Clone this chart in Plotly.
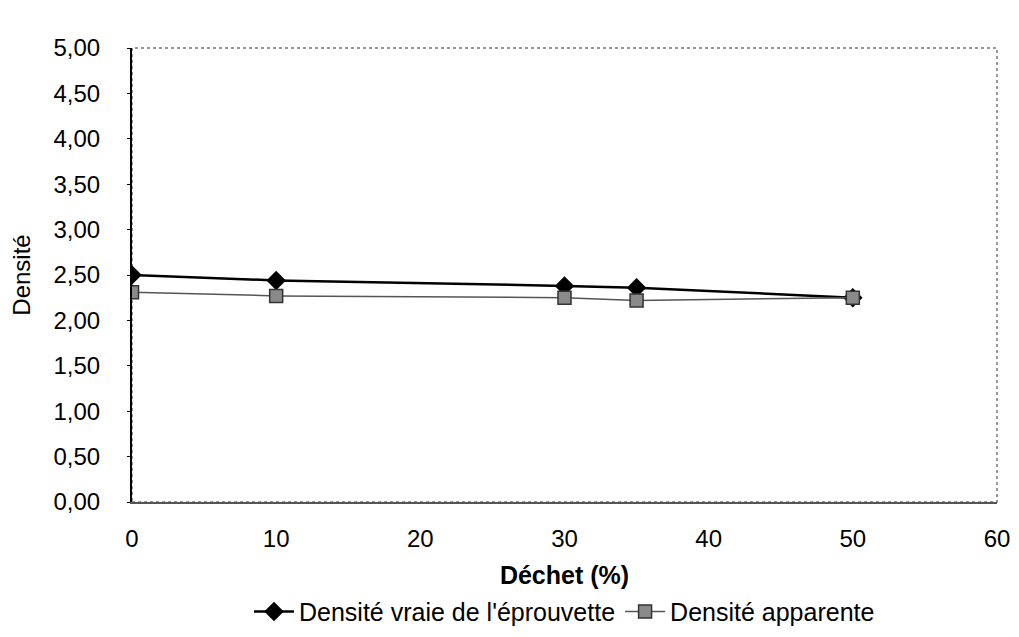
import plotly.graph_objects as go

# Déchet (%) on x, densities on y
dechet = [0, 10, 30, 35, 50]
densite_vraie = [2.50, 2.44, 2.38, 2.36, 2.25]
densite_apparente = [2.31, 2.27, 2.25, 2.22, 2.25]

y_ticks = [0, 0.5, 1.0, 1.5, 2.0, 2.5, 3.0, 3.5, 4.0, 4.5, 5.0]
x_ticks = [0, 10, 20, 30, 40, 50, 60]

font_family = "Liberation Sans, Arial, sans-serif"

fig = go.Figure()

fig.add_trace(
    go.Scatter(
        x=dechet,
        y=densite_vraie,
        mode="lines+markers",
        name="Densité vraie de l'éprouvette",
        line=dict(color="black", width=2.5),
        marker=dict(symbol="diamond", size=15, color="black"),
    )
)

fig.add_trace(
    go.Scatter(
        x=dechet,
        y=densite_apparente,
        mode="lines+markers",
        name="Densité apparente",
        line=dict(color="#555555", width=1.5),
        marker=dict(
            symbol="square",
            size=13,
            color="#8a8a8a",
            line=dict(color="#333333", width=1.5),
        ),
    )
)

# dotted grey frame around the plotting area (top and right side)
fig.add_shape(
    type="rect",
    xref="paper",
    yref="paper",
    x0=0,
    y0=0,
    x1=1,
    y1=1,
    line=dict(color="#777777", width=1.5, dash="dot"),
    layer="below",
)

# the page body adds an 8 px margin, so the figure is 8 px smaller
fig.update_layout(
    width=1011,
    height=629,
    paper_bgcolor="white",
    plot_bgcolor="white",
    separators=", ",
    font=dict(family=font_family, color="black", size=24),
    margin=dict(l=124, r=22, t=40, b=135),
    showlegend=True,
    legend=dict(
        orientation="h",
        x=0.5,
        xanchor="center",
        yref="container",
        y=0.04,
        yanchor="middle",
        font=dict(size=25),
        itemwidth=40,
        tracegroupgap=0,
    ),
    xaxis=dict(
        range=[0, 60],
        tickvals=x_ticks,
        showgrid=False,
        zeroline=False,
        showline=True,
        linecolor="#555555",
        linewidth=1.5,
        ticks="",
        ticklabelstandoff=14,
        automargin=False,
        title=dict(
            text="<b>Déchet (%)</b>",
            font=dict(size=25),
            standoff=22,
        ),
    ),
    yaxis=dict(
        range=[0, 5],
        tickvals=y_ticks,
        tickformat=".2f",
        showgrid=False,
        zeroline=False,
        showline=True,
        linecolor="black",
        linewidth=2,
        ticks="outside",
        ticklen=3,
        tickcolor="black",
        ticklabelstandoff=22,
        automargin=False,
        title=dict(
            text="Densité",
            font=dict(size=24),
            standoff=18,
        ),
    ),
)

fig.write_html("out.html")
